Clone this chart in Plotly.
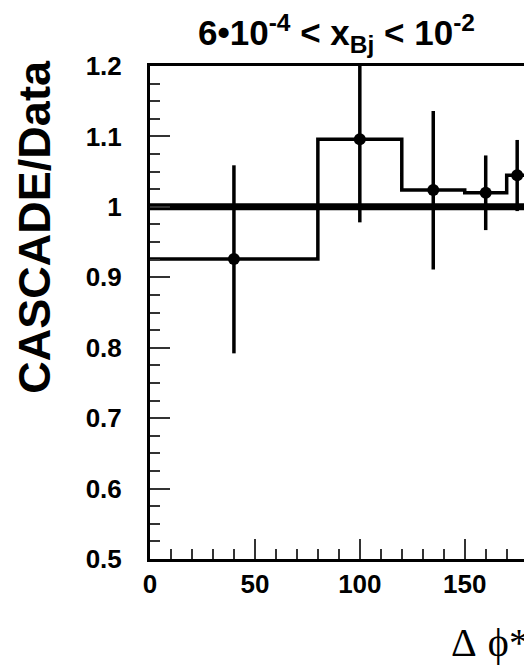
import plotly.graph_objects as go

# Data
bin_edges = [0, 80, 120, 150, 170, 180]
ratio_values = [0.926, 1.096, 1.024, 1.020, 1.045]
point_x = [40, 100, 135, 160, 175]
point_y = [0.926, 1.096, 1.024, 1.020, 1.045]
err_plus = [0.133, 0.104, 0.112, 0.053, 0.050]
err_minus = [0.134, 0.118, 0.113, 0.053, 0.051]
ref_x = [0, 180]
ref_y = [1.0, 1.0]

x_tickvals = [0, 50, 100, 150]
y_tickvals = [0.5, 0.6, 0.7, 0.8, 0.9, 1.0, 1.1, 1.2]
y_ticktext = ["0.5", "0.6", "0.7", "0.8", "0.9", "1", "1.1", "1.2"]

W, H = 524, 665
L, R, T, B = 149.5, 0, 66, 106
pw = W - L - R
ph = H - T - B

fig = go.Figure()

# reference line at 1
fig.add_trace(go.Scatter(x=ref_x, y=ref_y, mode="lines",
                         line=dict(color="black", width=7), showlegend=False,
                         hoverinfo="skip"))

# histogram step line
hx = list(bin_edges)
hy = list(ratio_values) + [ratio_values[-1]]
fig.add_trace(go.Scatter(x=hx, y=hy, mode="lines", line_shape="hv",
                         line=dict(color="black", width=3.5), showlegend=False))

# points with error bars
fig.add_trace(go.Scatter(x=point_x, y=point_y, mode="markers",
                         marker=dict(color="black", size=12, symbol="circle"),
                         error_y=dict(type="data", symmetric=False, array=err_plus,
                                      arrayminus=err_minus, color="black",
                                      thickness=3.5, width=0),
                         showlegend=False))

font_sans = "Liberation Sans"

fig.update_layout(
    width=W, height=H,
    margin=dict(l=L, r=R, t=T, b=B, pad=0),
    paper_bgcolor="white", plot_bgcolor="white",
    font=dict(family=font_sans, color="black"),
    showlegend=False,
    title=dict(
        text="<b>6•10<sup>-4</sup> < x<sub>Bj</sub> < 10<sup>-2</sup></b>",
        font=dict(family=font_sans, size=35, color="black"),
        xref="container", yref="container",
        x=336.5 / W, xanchor="center",
        y=1 - 33 / H, yanchor="middle",
    ),
    xaxis=dict(
        range=[0, pw / 2.101], showgrid=False, zeroline=False,
        showline=True, linecolor="black", linewidth=3, mirror=True,
        ticks="inside", ticklen=20, tickwidth=1.5, tickcolor="#333",
        tickvals=x_tickvals, ticktext=[str(v) for v in x_tickvals],
        tickfont=dict(family=font_sans, size=26, color="black", weight="bold"),
        ticklabelstandoff=0,
        minor=dict(dtick=10, tick0=0, ticks="inside", ticklen=10,
                   tickwidth=1.5, tickcolor="#333", showgrid=False),
    ),
    yaxis=dict(
        range=[0.5, 1.2], showgrid=False, zeroline=False,
        showline=True, linecolor="black", linewidth=3, mirror=False,
        ticks="inside", ticklen=20, tickwidth=1.5, tickcolor="#333",
        tickvals=y_tickvals, ticktext=y_ticktext,
        tickfont=dict(family=font_sans, size=26, color="black", weight="bold"),
        ticklabelstandoff=20,
        minor=dict(dtick=0.025, tick0=0.5, ticks="inside", ticklen=10,
                   tickwidth=1.5, tickcolor="#333", showgrid=False),
    ),
    annotations=[
        dict(text="<b>CASCADE/Data</b>", textangle=-90,
             xref="paper", yref="paper",
             x=(34 - L) / pw, y=(H - B - 227) / ph,
             xanchor="center", yanchor="middle", showarrow=False,
             font=dict(family=font_sans, size=45, color="black")),
        dict(text="Δ \u200aϕ*",
             xref="paper", yref="paper",
             x=(449 - L) / pw, y=(H - B - 642) / ph,
             xanchor="left", yanchor="middle", showarrow=False,
             font=dict(family="Liberation Serif", size=40, color="black")),
    ],
)

fig.write_html("out.html")
